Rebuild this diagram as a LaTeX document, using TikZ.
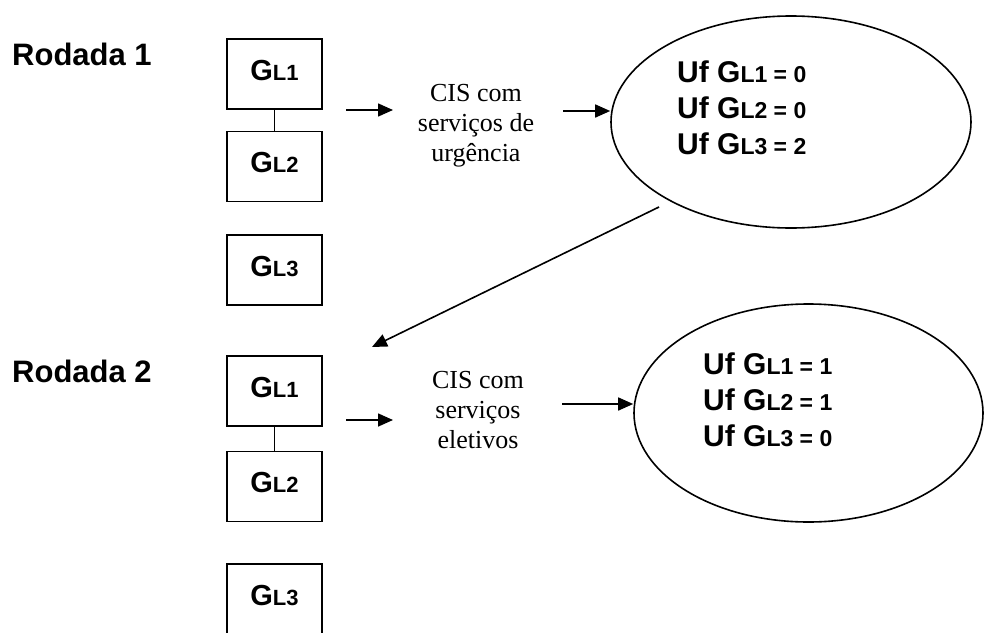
\documentclass[tikz,border=0pt]{standalone}
\usepackage{fontspec}
\setmainfont{Liberation Serif}
\setsansfont{Liberation Sans}
\usepackage{tikz}
\usetikzlibrary{positioning,shapes.geometric,arrows.meta}
\tikzset{
  glbox/.style={draw, line width=1.6pt, minimum width=95pt, minimum height=70pt, inner sep=0pt, text depth=8pt, font=\sffamily\bfseries},
  roundlabel/.style={anchor=base west, inner sep=0pt, font=\sffamily\bfseries\fontsize{31}{31}\selectfont},
  cistext/.style={anchor=north, inner sep=0pt, align=center, font=\fontsize{26}{30}\selectfont},
  result/.style={draw, ellipse, line width=1.6pt, inner sep=0pt},
  uftext/.style={anchor=north west, inner sep=0pt, align=left, font=\sffamily\bfseries\fontsize{30}{36}\selectfont},
  link/.style={line width=1.3pt},
  arrow/.style={-{Triangle[length=15pt,width=13pt]}, line width=1.6pt}
}
\newcommand{\gl}[1]{{\fontsize{29}{29}\selectfont G}{\fontsize{22}{22}\selectfont L#1}}
\newcommand{\uf}[2]{Uf G{\fontsize{23}{23}\selectfont L#1 = #2}}
\begin{document}
\begin{tikzpicture}[x=1pt, y=-1pt, node distance=21pt]
  \useasboundingbox (0,0) rectangle (985,632);
  \clip (0,0) rectangle (985,632);

  % Rodada 1
  \node[roundlabel] (rod1) at (12,65) {Rodada 1};
  \node[glbox] (g1a) at (274.5,74) {\gl{1}};
  \node[glbox, below=21pt of g1a] (g2a) {\gl{2}};
  \node[glbox, below=32pt of g2a] (g3a) {\gl{3}};
  \draw[link] (g1a) -- (g2a);

  \coordinate (a1s) at (346,110);
  \coordinate (a1e) at (393,110);
  \draw[arrow] (a1s) -- (a1e);
  \node[cistext] (cis1) at (476,84) {CIS com\\serviços de\\urgência};

  \node[result, minimum width=360pt, minimum height=212pt] (ell1) at (791,122) {};
  \node[uftext] (uf1) at (677,61) {\uf{1}{0}\\\uf{2}{0}\\\uf{3}{2}};
  \coordinate (a2s) at (563,111);
  \draw[arrow] (a2s) -- (a2s -| ell1.west);

  % passagem
  \coordinate (d1) at (659,207);
  \coordinate (d2) at (372,347);
  \draw[arrow] (d1) -- (d2);

  % Rodada 2
  \node[roundlabel] (rod2) at (12,382) {Rodada 2};
  \node[glbox] (g1b) at (274.5,391) {\gl{1}};
  \node[glbox, below=24pt of g1b] (g2b) {\gl{2}};
  \node[glbox, below=41pt of g2b] (g3b) {\gl{3}};
  \draw[link] (g1b) -- (g2b);

  \coordinate (b1s) at (346,420);
  \coordinate (b1e) at (393,420);
  \draw[arrow] (b1s) -- (b1e);
  \node[cistext] (cis2) at (478,371) {CIS com\\serviços\\eletivos};

  \node[result, minimum width=349pt, minimum height=218pt] (ell2) at (808.5,413) {};
  \node[uftext] (uf2) at (703,353) {\uf{1}{1}\\\uf{2}{1}\\\uf{3}{0}};
  \coordinate (b2s) at (562,404);
  \draw[arrow] (b2s) -- (b2s -| ell2.west);
\end{tikzpicture}
\end{document}
